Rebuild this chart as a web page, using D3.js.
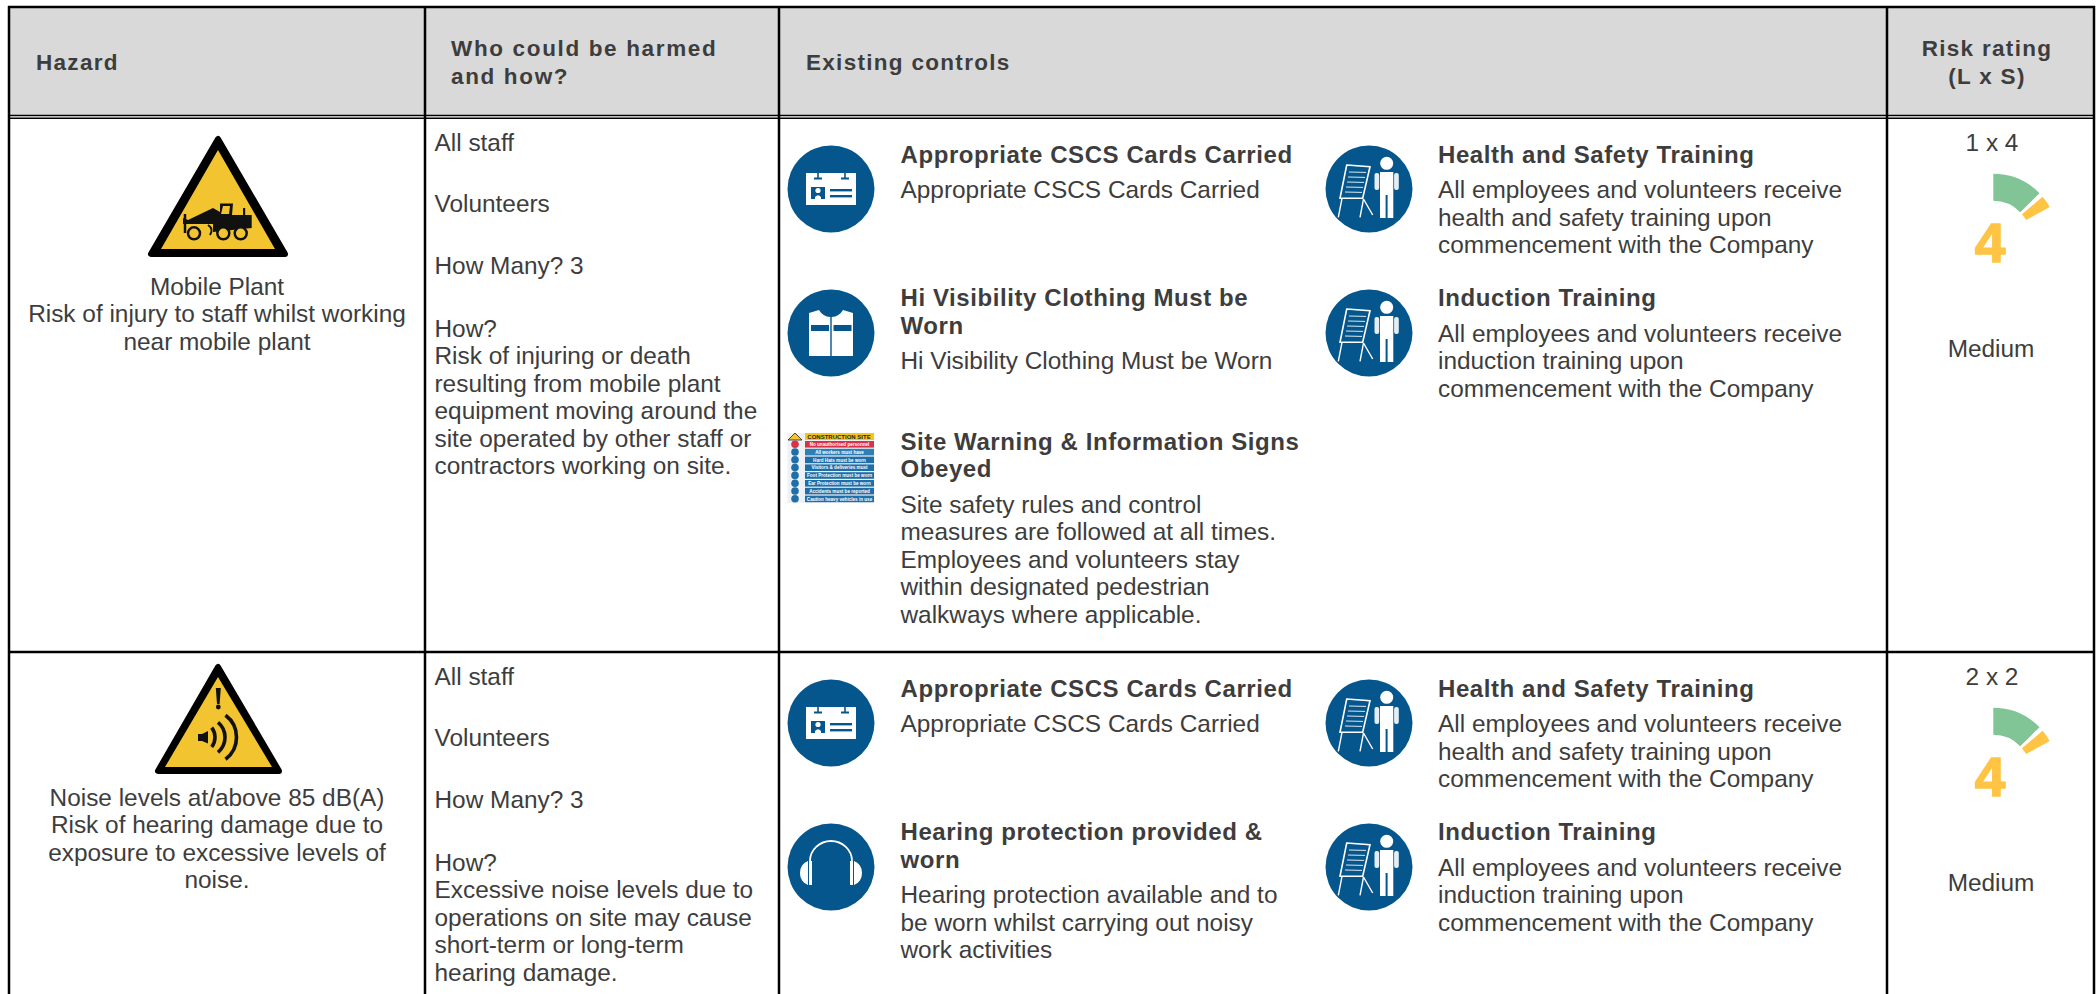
<!DOCTYPE html>
<html>
<head>
<meta charset="utf-8">
<script src="https://cdn.jsdelivr.net/npm/d3@7"></script>
<style>
  html, body { margin: 0; padding: 0; background: #fff; overflow: hidden; }
  svg { display: block; font-family: "Liberation Sans", Arial, sans-serif; }
  .body { font-size: 24.4px; fill: #3d3d3d; }
  .title { font-size: 24px; font-weight: 700; fill: #3d3d3d; letter-spacing: 0.58px; }
  .head { font-size: 22.5px; font-weight: 700; fill: #3d3d3d; letter-spacing: 1.3px; }
</style>
</head>
<body>
<svg id="chart" width="2098" height="994"></svg>
<script>
const headers = [
  ["Hazard"],
  ["Who could be harmed", "and how?"],
  ["Existing controls"],
  ["Risk rating", "(L x S)"],
];
const hazardText = [
  ["Mobile Plant", "Risk of injury to staff whilst working", "near mobile plant"],
  ["Noise levels at/above 85 dB(A)", "Risk of hearing damage due to", "exposure to excessive levels of", "noise."],
];
const whoText = [
  ["All staff", "Volunteers", "How Many? 3", ["How?", "Risk of injuring or death", "resulting from mobile plant", "equipment moving around the", "site operated by other staff or", "contractors working on site."]],
  ["All staff", "Volunteers", "How Many? 3", ["How?", "Excessive noise levels due to", "operations on site may cause", "short-term or long-term", "hearing damage."]],
];
const healthBody = ["All employees and volunteers receive", "health and safety training upon", "commencement with the Company"];
const inductionBody = ["All employees and volunteers receive", "induction training upon", "commencement with the Company"];
const controls = [
  [
    { icon: "card", col: 0, slot: 0, title: ["Appropriate CSCS Cards Carried"], body: ["Appropriate CSCS Cards Carried"] },
    { icon: "vest", col: 0, slot: 1, title: ["Hi Visibility Clothing Must be", "Worn"], body: ["Hi Visibility Clothing Must be Worn"] },
    { icon: "sign", col: 0, slot: 2, title: ["Site Warning & Information Signs", "Obeyed"], body: ["Site safety rules and control", "measures are followed at all times.", "Employees and volunteers stay", "within designated pedestrian", "walkways where applicable."] },
    { icon: "chart", col: 1, slot: 0, title: ["Health and Safety Training"], body: healthBody },
    { icon: "chart", col: 1, slot: 1, title: ["Induction Training"], body: inductionBody },
  ],
  [
    { icon: "card", col: 0, slot: 0, title: ["Appropriate CSCS Cards Carried"], body: ["Appropriate CSCS Cards Carried"] },
    { icon: "ear", col: 0, slot: 1, title: ["Hearing protection provided &", "worn"], body: ["Hearing protection available and to", "be worn whilst carrying out noisy", "work activities"] },
    { icon: "chart", col: 1, slot: 0, title: ["Health and Safety Training"], body: healthBody },
    { icon: "chart", col: 1, slot: 1, title: ["Induction Training"], body: inductionBody },
  ],
];
const ratingText = ["1 x 4", "2 x 2"];
const ratingScore = [4, 4];
const ratingLabel = ["Medium", "Medium"];
// gauge bands in score units
const gaugeBands = [[0, 3, "#81c596"], [3.27, 4, "#ffc444"]];
const signRows = [
  ["No unauthorised personnel", "#d8324a"],
  ["All workers must have", "#2f7fb4"],
  ["Hard Hats must be worn", "#1f6ea8"],
  ["Visitors & deliveries must", "#1f6ea8"],
  ["Foot Protection must be worn", "#1f6ea8"],
  ["Ear Protection must be worn", "#1f6ea8"],
  ["Accidents must be reported", "#1f6ea8"],
  ["Caution heavy vehicles in use", "#1f6ea8"],
];

const BLUE = "#04568c";
const svg = d3.select("#chart");
const rowTop = [0, 534];
const lineH = 27.5;

// header band and grid
svg.append("rect").attr("x", 9).attr("y", 7).attr("width", 2085).attr("height", 109).attr("fill", "#d9d9d9");

function lines(g, x, y, arr, cls, anchor) {
  arr.forEach((t, i) => {
    g.append("text").attr("class", cls).attr("x", x).attr("y", y + i * lineH)
      .attr("text-anchor", anchor || "start").text(t);
  });
}

// headers
const headX = [36, 451, 806, 1987];
headers.forEach((h, i) => {
  const y = h.length === 1 ? 70 : 56;
  h.forEach((t, j) => {
    svg.append("text").attr("class", "head").attr("x", headX[i]).attr("y", y + j * 28)
      .attr("text-anchor", i === 3 ? "middle" : "start")
      .style("letter-spacing", i === 1 ? "1.65px" : null).text(t);
  });
});

const gaugeScale = d3.scaleLinear().domain([0, 12]).range([0, Math.PI * 61 / 180 * 3]);
const arc = d3.arc().innerRadius(37.5).outerRadius(64.5);

const iconDraw = {
  card(g) {
    g.append("rect").attr("x", -25).attr("y", -16).attr("width", 50).attr("height", 32).attr("fill", "#fff");
    [-13, 14].forEach((x) => {
      g.append("rect").attr("x", x - 0.8).attr("y", -16).attr("width", 1.6).attr("height", 5).attr("fill", BLUE);
      g.append("rect").attr("x", x - 4).attr("y", -11.5).attr("width", 8).attr("height", 2).attr("fill", BLUE);
    });
    g.append("path").attr("d", "M-20,-2H-6V10H-20Z").attr("fill", BLUE);
    g.append("circle").attr("cx", -13).attr("cy", 1.5).attr("r", 2.6).attr("fill", "#fff");
    g.append("path").attr("d", "M-16,10V8Q-13,4.5 -10,8V10Z").attr("fill", "#fff");
    g.append("rect").attr("x", -1).attr("y", 0).attr("width", 22).attr("height", 2.4).attr("fill", BLUE);
    g.append("rect").attr("x", -1).attr("y", 6).attr("width", 22).attr("height", 2.4).attr("fill", BLUE);
  },
  vest(g) {
    g.append("path").attr("d", "M-22,-20L-12,-23A14,14 0 0 0 -0.7,-16V23H-22Z").attr("fill", "#fff");
    g.append("path").attr("d", "M22,-20L12,-23A14,14 0 0 1 0.7,-16V23H22Z").attr("fill", "#fff");
    g.append("rect").attr("x", -20).attr("y", -8).attr("width", 18).attr("height", 6).attr("fill", BLUE);
    g.append("rect").attr("x", 2.5).attr("y", -8).attr("width", 18).attr("height", 6).attr("fill", BLUE);
  },
  chart(g) {
    g.append("path").attr("d", "M-22.3,-24L1,-22.3L-6.3,9.3H-29Z").attr("fill", "none").attr("stroke", "#fff").attr("stroke-width", 1.6);
    d3.range(5).forEach((i) => {
      const y = -17 + i * 5;
      g.append("line").attr("x1", -20 - i).attr("x2", -3 - i).attr("y1", y).attr("y2", y + 0.4).attr("stroke", "#dfe9f1").attr("stroke-width", 1);
    });
    g.append("path").attr("d", "M-27,9.3L-30.7,28.3M-5.5,10L-9,28.3M-5.5,10L3.7,26").attr("stroke", "#fff").attr("stroke-width", 1.4).attr("fill", "none");
    g.append("circle").attr("cx", 17.7).attr("cy", -25.7).attr("r", 6.5).attr("fill", "#fff");
    g.append("path").attr("d", "M11,-17H24.3V29H18.6V6H16.6V29H11Z").attr("fill", "#fff");
    g.append("rect").attr("x", 5.5).attr("y", -16).attr("width", 4.7).attr("height", 17).attr("rx", 2).attr("fill", "#e4edf3");
    g.append("rect").attr("x", 25.1).attr("y", -16).attr("width", 4.7).attr("height", 17).attr("rx", 2).attr("fill", "#e4edf3");
  },
  ear(g) {
    g.append("path").attr("d", "M-21,-6A21,20 0 0 1 21,-6").attr("fill", "none").attr("stroke", "#fff").attr("stroke-width", 1.8);
    g.append("path").attr("d", "M-22,-6H-19V18H-22Z M19,-6H22V18H19Z").attr("fill", "#fff");
    g.append("path").attr("d", "M-23,-6V18A11,12 0 0 1 -31,6A11,12 0 0 1 -23,-6Z").attr("fill", "#fff");
    g.append("path").attr("d", "M23,-6V18A11,12 0 0 0 31,6A11,12 0 0 0 23,-6Z").attr("fill", "#fff");
  },
};

function drawSign(g) {
  // board is 87 x 70 with its centre on the icon anchor
  g.append("rect").attr("x", -43.5).attr("y", -35).attr("width", 87).attr("height", 70).attr("fill", "#eef1f3");
  g.append("path").attr("d", "M-36,-35L-43,-28H-29Z").attr("fill", "#f2c430").attr("stroke", "#222").attr("stroke-width", 0.8);
  g.append("rect").attr("x", -26).attr("y", -35).attr("width", 69).attr("height", 7).attr("fill", "#f5c518");
  g.append("text").attr("x", 8).attr("y", -29.5).attr("text-anchor", "middle").attr("font-size", 6).attr("font-weight", 700).attr("fill", "#222").text("CONSTRUCTION SITE");
  signRows.forEach(([label, colour], i) => {
    const y = -27 + i * 7.8;
    g.append("circle").attr("cx", -36).attr("cy", y + 3.2).attr("r", 3.8).attr("fill", i === 0 ? "#d8324a" : "#1f6ea8");
    g.append("rect").attr("x", -26).attr("y", y).attr("width", 69).attr("height", 6.6).attr("fill", colour);
    g.append("text").attr("x", 8.5).attr("y", y + 5).attr("text-anchor", "middle").attr("font-size", 4.6).attr("font-weight", 700).attr("fill", "#fff").text(label);
  });
}

function drawHazardSign(g, i) {
  if (i === 0) {
    g.append("path").attr("d", "M218,139L151,254H285Z").attr("fill", "#000").attr("stroke", "#000").attr("stroke-width", 6).attr("stroke-linejoin", "round");
    g.append("path").attr("d", "M218,150L161,249H275Z").attr("fill", "#f2c430");
    // loader: body, cab, arm, bucket, wheels
    g.append("path").attr("d", "M220,203.5H233L232,215H251.7V228L213,232V224H183V218L188,220L213,208L220,212Z").attr("fill", "#111");
    g.append("path").attr("d", "M223,206H230L229,214H221Z").attr("fill", "#f2c430");
    g.append("rect").attr("x", 243).attr("y", 208).attr("width", 2.2).attr("height", 8).attr("fill", "#111");
    g.append("path").attr("d", "M185,214V233").attr("stroke", "#111").attr("stroke-width", 2.5);
    g.append("path").attr("d", "M208,225Q214,229 210,235").attr("fill", "none").attr("stroke", "#111").attr("stroke-width", 2);
    [[194, 233.3], [223.3, 233.3], [240.7, 233.3]].forEach(([cx, cy]) => {
      g.append("circle").attr("cx", cx).attr("cy", cy).attr("r", 6).attr("fill", "#f2c430").attr("stroke", "#111").attr("stroke-width", 2.5);
    });
  } else {
    g.append("path").attr("d", "M218,667L158,771H279Z").attr("fill", "#000").attr("stroke", "#000").attr("stroke-width", 6).attr("stroke-linejoin", "round");
    g.append("path").attr("d", "M218,677L165,767H272Z").attr("fill", "#f2c430");
    // exclamation mark
    g.append("path").attr("d", "M215.8,688H220.8L219.6,704H217Z").attr("fill", "#111");
    g.append("circle").attr("cx", 218.3).attr("cy", 707).attr("r", 2.4).attr("fill", "#111");
    // speaker and sound waves
    g.append("path").attr("d", "M198,734H202L208,731V743.5L202,741H198Z").attr("fill", "#111");
    [[199, 16, 9.7], [205.4, 19.6, 15], [209, 27.5, 22]].forEach(([cx, r, half]) => {
      const dx = Math.sqrt(r * r - half * half);
      const cy = 737.3;
      g.append("path")
        .attr("d", `M${cx + dx},${cy - half}A${r},${r} 0 0 1 ${cx + dx},${cy + half}`)
        .attr("fill", "none").attr("stroke", "#111").attr("stroke-width", 3.6);
    });
  }
}

rowTop.forEach((off, r) => {
  const row = svg.append("g").attr("class", "row");

  drawHazardSign(row, r);
  const hazY = r === 0 ? 294.5 : 805.5;
  lines(row, 217, hazY, hazardText[r], "body", "middle");

  // who could be harmed
  const who = whoText[r];
  const whoX = 434.5;
  [150.5, 211.5, 273.5].forEach((y, i) => lines(row, whoX, y + off, [who[i]], "body"));
  lines(row, whoX, 336.5 + off, who[3], "body");

  // controls
  controls[r].forEach((c) => {
    const cy = 189 + c.slot * 144 + off;
    const iconX = c.col === 0 ? 831 : 1369;
    const textX = c.col === 0 ? 900.5 : 1438;
    const ig = row.append("g").attr("transform", `translate(${iconX},${c.slot === 2 ? 468 + off : cy})`);
    if (c.icon === "sign") {
      drawSign(ig);
    } else {
      ig.append("circle").attr("r", 43.5).attr("fill", BLUE);
      iconDraw[c.icon](ig);
    }
    const titleY = 162.5 + c.slot * 143.5 + off;
    lines(row, textX, titleY, c.title, "title");
    lines(row, textX, titleY + (c.title.length - 1) * lineH + 35.5, c.body, "body");
  });

  // risk rating
  row.append("text").attr("class", "body").attr("x", 1992).attr("y", 151 + off).attr("text-anchor", "middle").text(ratingText[r]);
  const gauge = row.append("g").attr("transform", `translate(1993.3,${238.3 + off})`);
  gauge.selectAll("path").data(gaugeBands).join("path")
    .attr("d", (d) => arc({ startAngle: gaugeScale(d[0]), endAngle: gaugeScale(d[1]) }))
    .attr("fill", (d) => d[2]);
  row.append("text").attr("x", 1990).attr("y", 262 + off).attr("text-anchor", "middle")
    .attr("font-size", 55).attr("font-weight", 700).attr("fill", "#ffc444").attr("stroke", "#ffc444")
    .attr("stroke-width", 1.5).attr("stroke-linejoin", "round").text(ratingScore[r]);
  row.append("text").attr("class", "body").attr("x", 1991).attr("y", 356.5 + off).attr("text-anchor", "middle").text(ratingLabel[r]);
});

// grid lines on top
const grid = svg.append("g").attr("stroke", "#000").attr("fill", "none");
[9, 425, 779, 1887, 2094].forEach((x) => {
  grid.append("line").attr("x1", x).attr("x2", x).attr("y1", 6).attr("y2", 994).attr("stroke-width", 2.5);
});
grid.append("line").attr("x1", 8).attr("x2", 2095).attr("y1", 7).attr("y2", 7).attr("stroke-width", 2.5);
[[115.5, 1.6], [118.3, 1.6], [652, 2.5]].forEach(([y, w]) => {
  grid.append("line").attr("x1", 8).attr("x2", 2095).attr("y1", y).attr("y2", y).attr("stroke-width", w);
});
</script>
</body>
</html>
